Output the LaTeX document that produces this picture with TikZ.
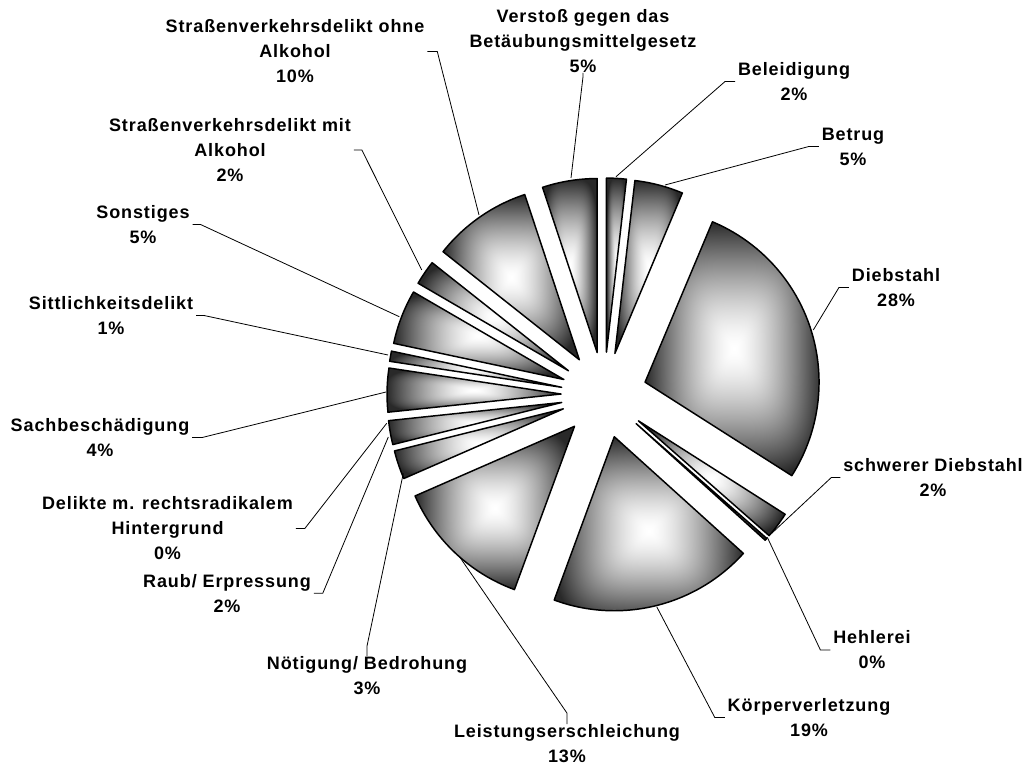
\documentclass[tikz,border=0pt]{standalone}
\usepackage{fontspec}
\setmainfont{Liberation Sans}[LetterSpace=5]
\usetikzlibrary{calc}
\pgfdeclarefunctionalshading{rectgrad}{\pgfpoint{-50bp}{-50bp}}{\pgfpoint{50bp}{50bp}}{}{25 div dup mul dup mul exch 25 div dup mul dup mul add sqrt sqrt dup 1 gt {pop 1} if dup sqrt mul -0.84 mul 1 add dup dup}
\tikzset{
  sliceshade/.style={shading=rectgrad, draw=black, line width=1.1pt, line join=round},
  lbl/.style={font=\fontsize{13.5}{18.75}\selectfont\bfseries, align=center, inner xsep=2pt, inner ysep=0pt},
  leader/.style={draw=black, line width=0.6pt},
}
\newcommand\pieslice[2]{%
  \pgfmathsetmacro\psA{-(#1)}%
  \pgfmathsetmacro\psB{-(#2)}%
  \pgfmathsetmacro\psM{-((#1)+(#2))/2}%
  \shadedraw[sliceshade] ($(C)+(\psM:43)$) -- ++(\psA:174) arc[start angle=\psA, end angle=\psB, radius=174] -- cycle;
}
\begin{document}
\begin{tikzpicture}[x=0.75pt,y=-0.75pt]
\useasboundingbox (0,0) rectangle (1032,766);
\coordinate (C) at (604,395);
% slices (math angles, clockwise)
\pieslice{90}{83.4}
\pieslice{83.4}{67.2}
\pieslice{67.2}{-32.5}
\pieslice{-32.5}{-41.3}
\pieslice{-41.3}{-42.1}
\pieslice{-42.1}{-110.2}
\pieslice{-110.2}{-156.4}
\pieslice{-156.4}{-166}
\pieslice{-166}{-174}
\pieslice{-174}{-188.6}
\pieslice{-188.6}{-192}
\pieslice{-192}{-210.2}
\pieslice{-210.2}{-218.4}
\pieslice{-218.4}{-251.7}
\pieslice{-251.7}{-270}
% leader end points
\coordinate (aStrO) at (479,215);
\coordinate (aVer) at (571,178);
\coordinate (aBel) at (616,176.7);
\coordinate (aBet) at (665,185);
\coordinate (aDie) at (813.3,330);
\coordinate (aSD) at (771.7,533.3);
\coordinate (aHeh) at (767.3,537.3);
\coordinate (aKV) at (656.7,606.7);
\coordinate (aLE) at (459,556);
\coordinate (aNoe) at (403.3,473.3);
\coordinate (aRaub) at (388.3,437);
\coordinate (aDel) at (386.7,423.3);
\coordinate (aSach) at (386,392);
\coordinate (aSitt) at (388,355);
\coordinate (aSon) at (399.3,316.7);
\coordinate (aStrM) at (421.7,270);
% labels
\node[lbl] (lStrO) at (295,51.5) {Straßenverkehrsdelikt ohne\\Alkohol\\10\%};
\node[lbl] (lVer) at (583,41) {Verstoß gegen das\\Betäubungsmittelgesetz\\5\%};
\node[lbl] (lBel) at (794,81.5) {Beleidigung\\2\%};
\node[lbl] (lBet) at (853,146.5) {Betrug\\5\%};
\node[lbl] (lDie) at (896,287.5) {Diebstahl\\28\%};
\node[lbl] (lSD) at (933,477.5) {schwerer Diebstahl\\2\%};
\node[lbl] (lHeh) at (872,650) {Hehlerei\\0\%};
\node[lbl] (lKV) at (809,717.5) {Körperverletzung\\19\%};
\node[lbl] (lLE) at (567,743.5) {Leistungserschleichung\\13\%};
\node[lbl] (lNoe) at (367,675.5) {Nötigung/ Bedrohung\\3\%};
\node[lbl] (lRaub) at (227,593.3) {Raub/ Erpressung\\2\%};
\node[lbl] (lDel) at (167.5,528.5) {Delikte m. rechtsradikalem\\Hintergrund\\0\%};
\node[lbl] (lSach) at (100,437.5) {Sachbeschädigung\\4\%};
\node[lbl] (lSitt) at (111,315.5) {Sittlichkeitsdelikt\\1\%};
\node[lbl] (lSon) at (143,224.5) {Sonstiges\\5\%};
\node[lbl] (lStrM) at (230,150) {Straßenverkehrsdelikt mit\\Alkohol\\2\%};
% leaders
\draw[leader] (lStrO.east) -- ++(10,0) -- (aStrO);
\draw[leader] (lVer.south) -- ++(0,4) -- (aVer);
\draw[leader] (lBel.west) -- ++(-10,0) -- (aBel);
\draw[leader] (lBet.west) -- ++(-10,0) -- (aBet);
\draw[leader] (lDie.west) -- ++(-10,0) -- (aDie);
\draw[leader] (lSD.west) -- ++(-9,0) -- (aSD);
\draw[leader] (lHeh.west) -- ++(-10,0) -- (aHeh);
\draw[leader] (lKV.west) -- ++(-10,0) -- (aKV);
\draw[leader] (lLE.north) -- ++(0,-11) -- (aLE);
\draw[leader] (lNoe.north) -- ++(0,-10) -- (aNoe);
\draw[leader] (lRaub.east) -- ++(9,0) -- (aRaub);
\draw[leader] (lDel.east) -- ++(9,0) -- (aDel);
\draw[leader] (lSach.east) -- ++(10,0) -- (aSach);
\draw[leader] (lSitt.east) -- ++(8,0) -- (aSitt);
\draw[leader] (lSon.east) -- ++(8,0) -- (aSon);
\draw[leader] (lStrM.east) -- ++(8,0) -- (aStrM);
\end{tikzpicture}
\end{document}
